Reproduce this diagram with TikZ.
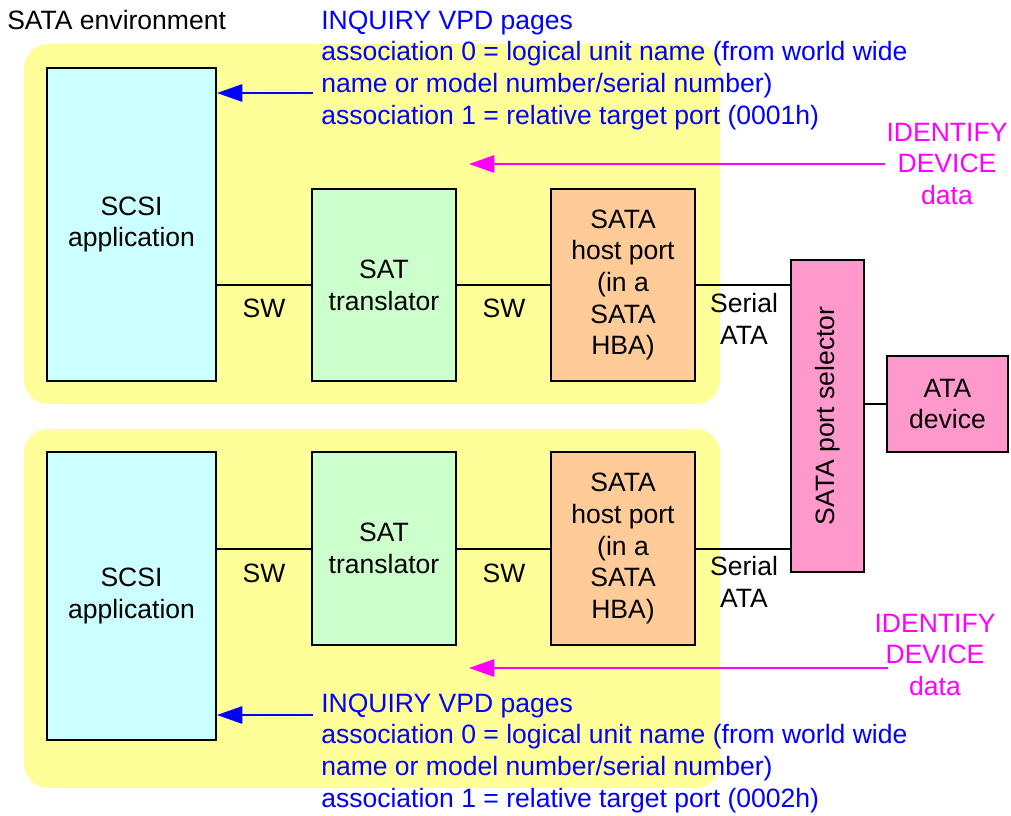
\documentclass[tikz,border=0pt]{standalone}
\usepackage{fontspec}
\setmainfont{Liberation Sans}
\usetikzlibrary{arrows.meta}
\definecolor{envyellow}{HTML}{FFFF99}
\definecolor{appcyan}{HTML}{CCFFFF}
\definecolor{satgreen}{HTML}{CCFFCC}
\definecolor{hbaorange}{HTML}{FFCC99}
\definecolor{selpink}{HTML}{FF99CC}
\definecolor{inqblue}{HTML}{0000FF}
\definecolor{idmag}{HTML}{FF00FF}
\begin{document}
\begin{tikzpicture}[x=0.75pt,y=-0.75pt,
  txt/.style={font=\fontsize{19.9pt}{23.8pt}\selectfont, inner sep=0pt},
  box/.style={draw=black, line width=1.5pt, txt, align=center},
  env/.style={fill=envyellow, rounded corners=18pt, inner sep=0pt, minimum width=522pt},
  link/.style={line width=1.5pt},
  ptr/.style={line width=1.5pt, -{Triangle[length=19pt,width=13pt]}},
  inq/.style={txt, text=inqblue, anchor=base west},
  idt/.style={txt, text=idmag, anchor=base},
]
\useasboundingbox (0,0) rectangle (1011,815);

% environments
\node[env, minimum height=270pt] (env1) at (372,224) {};
\node[env, minimum height=269.25pt] (env2) at (372,608.5) {};
\node[txt, anchor=base west] (envlbl) at (7,29) {SATA environment};

% top stack
\node[box, fill=appcyan, minimum width=126.75pt, minimum height=234.75pt] (app1) at (131.5,224.5) {SCSI\\application};
\node[box, fill=satgreen, minimum width=108pt, minimum height=144pt] (sat1) at (384,285) {SAT\\translator};
\node[box, fill=hbaorange, minimum width=108pt, minimum height=144pt] (hba1) at (623,285) {SATA\\host port\\(in a\\SATA\\HBA)};

% bottom stack
\node[box, fill=appcyan, minimum width=126.75pt, minimum height=216pt] (app2) at (131.5,596) {SCSI\\application};
\node[box, fill=satgreen, minimum width=108pt, minimum height=144.75pt] (sat2) at (384,548.5) {SAT\\translator};
\node[box, fill=hbaorange, minimum width=108pt, minimum height=144.75pt] (hba2) at (623,548.5) {SATA\\host port\\(in a\\SATA\\HBA)};

% port selector and device
\node[box, fill=selpink, minimum width=54.75pt, minimum height=234pt] (sel) at (827.5,416) {};
\node[txt, rotate=90] (sellbl) at (sel.center) {SATA port selector};
\node[box, fill=selpink, minimum width=90.75pt, minimum height=72pt] (ata) at (947.5,404) {ATA\\device};

% connectors
\draw[link] (sat1.west -| app1.east) -- (sat1.west);
\draw[link] (sat1.east) -- (hba1.west);
\draw[link] (hba1.east) -- (hba1.east -| sel.west);
\draw[link] (sat2.west -| app2.east) -- (sat2.west);
\draw[link] (sat2.east) -- (hba2.west);
\draw[link] (hba2.east) -- (hba2.east -| sel.west);
\draw[link] (sel.east |- ata.west) -- (ata.west);

% connector labels
\node[txt, anchor=base] (sw1) at (264,317) {SW};
\node[txt, anchor=base] (sw2) at (504,317) {SW};
\node[txt, align=center, anchor=base] (ser1) at (744,344) {Serial\\ATA};
\node[txt, anchor=base] (sw3) at (264,582) {SW};
\node[txt, anchor=base] (sw4) at (504,582) {SW};
\node[txt, align=center, anchor=base] (ser2) at (744,607) {Serial\\ATA};

% INQUIRY VPD text (top)
\node[inq] (inqa1) at (321,29) {INQUIRY VPD pages};
\node[inq] (inqa2) at (321,60.5) {association 0 = logical unit name (from world wide};
\node[inq] (inqa3) at (321,92.5) {name or model number/serial number)};
\node[inq] (inqa4) at (321,124) {association 1 = relative target port (0001h)};
\coordinate (inq1src) at (313,93);
\draw[ptr, draw=inqblue, fill=inqblue] (inq1src) -- (inq1src -| app1.east);

% INQUIRY VPD text (bottom)
\node[inq] (inqb1) at (321,712) {INQUIRY VPD pages};
\node[inq] (inqb2) at (321,743.5) {association 0 = logical unit name (from world wide};
\node[inq] (inqb3) at (321,775) {name or model number/serial number)};
\node[inq] (inqb4) at (321,807) {association 1 = relative target port (0002h)};
\coordinate (inq2src) at (313,715);
\draw[ptr, draw=inqblue, fill=inqblue] (inq2src) -- (inq2src -| app2.east);

% IDENTIFY DEVICE data (top)
\node[idt] (ida1) at (947,141) {IDENTIFY};
\node[idt] (ida2) at (947,172.7) {DEVICE};
\node[idt] (ida3) at (947,204) {data};
\coordinate (id1src) at (885,164);
\coordinate (id1dst) at (469,164);
\draw[ptr, draw=idmag, fill=idmag] (id1src) -- (id1dst);

% IDENTIFY DEVICE data (bottom)
\node[idt] (idb1) at (935,632) {IDENTIFY};
\node[idt] (idb2) at (935,663) {DEVICE};
\node[idt] (idb3) at (935,695) {data};
\coordinate (id2src) at (888,668);
\coordinate (id2dst) at (469,668);
\draw[ptr, draw=idmag, fill=idmag] (id2src) -- (id2dst);
\end{tikzpicture}
\end{document}
